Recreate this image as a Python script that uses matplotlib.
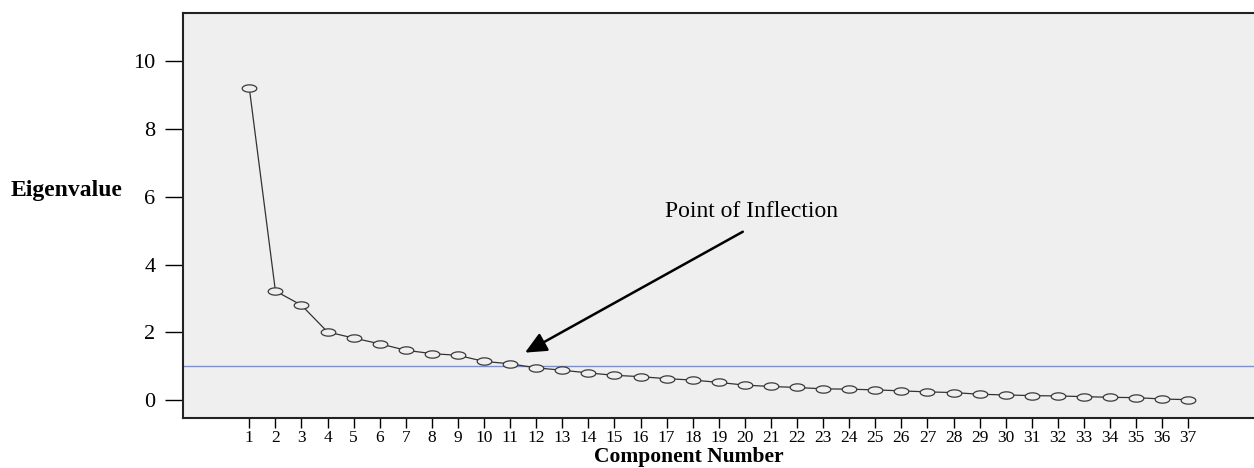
import numpy as np
import matplotlib
matplotlib.use('Agg')
from matplotlib import pyplot as plt
from matplotlib.path import Path

# scree plot data
components = list(range(1, 38))
eigenvalues = [9.21, 3.22, 2.80, 2.01, 1.83, 1.66, 1.47, 1.37, 1.32, 1.14,
               1.07, 0.95, 0.88, 0.80, 0.73, 0.69, 0.63, 0.59, 0.52, 0.44,
               0.40, 0.37, 0.33, 0.32, 0.30, 0.27, 0.24, 0.22, 0.17, 0.15,
               0.13, 0.12, 0.10, 0.08, 0.07, 0.03, 0.01]
cutoff = 1.0
y_ticks = [0, 2, 4, 6, 8, 10]

plt.rcParams['font.family'] = ['Liberation Serif', 'DejaVu Serif']

# flat ellipse marker
theta = np.linspace(0, 2 * np.pi, 60)
ellipse = Path(np.column_stack([np.cos(theta), 0.5 * np.sin(theta)]), closed=True)

fig = plt.figure(figsize=(12.54, 4.68), dpi=100)
ax = fig.add_axes([0.1462, 0.1062, 0.8538, 0.8660])
ax.set_facecolor('#efefef')

ax.axhline(cutoff, color='#7f8fcc', lw=1.0, zorder=1)
ax.plot(components, eigenvalues, color='#333333', lw=0.9,
        marker=ellipse, markersize=10.5, markerfacecolor='#efefef',
        markeredgecolor='#3a3a3a', markeredgewidth=0.9, zorder=2)

ax.annotate('', xy=(11.57, 1.40), xytext=(19.92, 4.97),
            arrowprops=dict(arrowstyle='-|>,head_length=1.3,head_width=0.6',
                            color='black', lw=1.8, shrinkA=0, shrinkB=0))
ax.text(20.27, 5.56, 'Point of Inflection', fontsize=17, ha='center', va='center')

ax.set_xlim(-1.53, 39.52)
ax.set_ylim(-0.54, 11.43)
ax.set_xticks(components)
ax.set_yticks(y_ticks)
ax.tick_params(axis='x', labelsize=12.5, length=7, width=1, pad=1.5)
ax.tick_params(axis='y', labelsize=16, length=13, width=1, pad=7)

for side in ['left', 'bottom', 'top']:
    ax.spines[side].set_color('#222222')
    ax.spines[side].set_linewidth(1.5)
ax.spines['right'].set_visible(False)

fig.text(0.0085, 0.594, 'Eigenvalue', fontsize=17, fontweight='bold', va='center', ha='left')
fig.text(0.5495, 0.012, 'Component Number', fontsize=15.5, fontweight='bold',
         va='baseline', ha='center')

fig.savefig('out.png', dpi=100)
